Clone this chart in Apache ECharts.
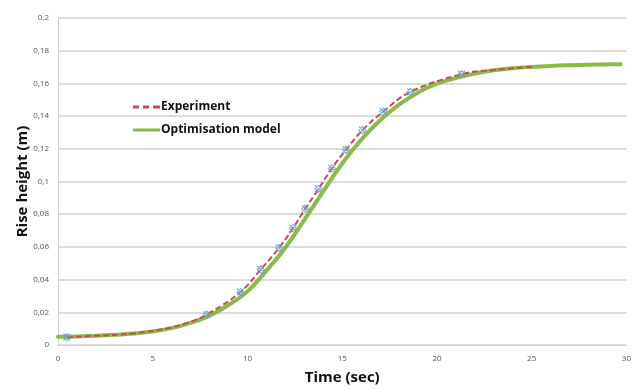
<!DOCTYPE html>
<html>
<head>
<meta charset="utf-8">
<script src="https://cdn.jsdelivr.net/npm/echarts@6/dist/echarts.min.js"></script>
<style>
  html, body { margin: 0; padding: 0; background: #fff; }
  #chart { width: 634px; height: 390px; }
</style>
</head>
<body>
<div id="chart"></div>
<script>
// experiment readings (time in sec, rise height in m) - the markers
const expTime = [0.47, 7.85, 9.63, 10.7, 11.67, 12.4, 13.05, 13.75, 14.45, 15.2, 16.07, 17.17, 18.6, 21.3];
const expHeight = [0.0048, 0.0186, 0.0324, 0.0462, 0.0594, 0.0714, 0.0834, 0.0954, 0.108, 0.1194, 0.1314, 0.1428, 0.1548, 0.1656];

// dashed experiment trend line as it appears in the picture
const expLineTime = [0.47, 2, 4, 6, 7, 7.85, 9.63, 10.7, 11.67, 12.4, 13.05, 13.75, 14.45, 15.2, 16.07, 17.17, 18.6, 21.3, 23, 25];
const expLineHeight = [0.0048, 0.0056, 0.0071, 0.0108, 0.0142, 0.0186, 0.0324, 0.0462, 0.0594, 0.0714, 0.0834, 0.0954, 0.108, 0.1194, 0.1314, 0.1428, 0.1548, 0.1656, 0.1682, 0.1701];

// optimisation model curve
const modelTime = [0, 1, 2, 3, 4, 5, 6, 7, 8, 9, 10, 11, 12, 13, 14, 15, 16, 17, 18, 19, 20, 21, 22, 23, 24, 25, 26, 27, 28, 29, 29.7];
const modelHeight = [0.0050, 0.0052, 0.0056, 0.0062, 0.0070, 0.0082, 0.0103, 0.0135, 0.0180, 0.0245, 0.0328, 0.0455, 0.0595, 0.0765, 0.0940, 0.1110, 0.1255, 0.1375, 0.1470, 0.1545, 0.1598, 0.1633, 0.1660, 0.1680, 0.1693, 0.1701, 0.1707, 0.1711, 0.1714, 0.1716, 0.1717];

const xTicks = [0, 5, 10, 15, 20, 25, 30];

const chart = echarts.init(document.getElementById('chart'));
const comma = (v) => String(Math.round(v * 1000) / 1000).replace('.', ',');
const pairs = (xs, ys) => xs.map((x, i) => [x, ys[i]]);

const option = {
  animation: false,
  backgroundColor: '#fff',
  grid: { left: 58, right: 3, top: 18, bottom: 39, containLabel: false },
  legend: {
    orient: 'vertical',
    left: 133,
    top: 101,
    padding: 0,
    itemGap: 11,
    itemWidth: 27,
    itemHeight: 3,
    textStyle: { fontFamily: 'Open Sans', fontWeight: 'bold', fontSize: 12, color: '#111', padding: [0, 0, 0, -4] },
    data: [
      {
        name: 'Experiment',
        icon: 'path://M0,0h6v3h-6z M10,0h6v3h-6z M20,0h7v3h-7z',
        itemStyle: { color: '#c0504d', borderWidth: 0 },
      },
      {
        name: 'Optimisation model',
        icon: 'path://M0,0h27v3h-27z',
        itemStyle: { color: '#8db94a', borderWidth: 0 },
      },
    ],
  },
  xAxis: {
    type: 'value',
    min: 0,
    max: 30,
    interval: 5,
    name: 'Time (sec)',
    nameLocation: 'middle',
    nameGap: 25,
    nameMoveOverlap: false,
    nameTextStyle: { fontFamily: 'Open Sans', fontWeight: 'bold', fontSize: 15, color: '#111' },
    axisLine: { show: true, lineStyle: { color: '#d0d0d0', width: 1 } },
    axisTick: { show: false },
    axisLabel: {
      fontFamily: 'Open Sans', fontSize: 8, color: '#555', margin: 10,
      formatter: (v) => (xTicks.includes(v) ? String(v) : ''),
    },
    splitLine: { show: false },
  },
  yAxis: {
    type: 'value',
    min: 0,
    max: 0.2,
    interval: 0.02,
    name: 'Rise height (m)',
    nameLocation: 'middle',
    nameGap: 28,
    nameMoveOverlap: false,
    nameRotate: 90,
    nameTextStyle: { fontFamily: 'Open Sans', fontWeight: 'bold', fontSize: 15, color: '#111' },
    axisLine: { show: true, lineStyle: { color: '#d0d0d0', width: 1 } },
    axisTick: { show: false },
    axisLabel: { fontFamily: 'Open Sans', fontSize: 8, color: '#555', margin: 9, formatter: comma },
    splitLine: { show: true, lineStyle: { color: '#dcdcdc', width: 2 } },
  },
  series: [
    {
      name: 'Optimisation model',
      type: 'line',
      data: pairs(modelTime, modelHeight),
      smooth: 0.4,
      showSymbol: false,
      lineStyle: { color: '#8db94a', width: 4, cap: 'round' },
      itemStyle: { color: '#8db94a' },
      z: 2,
    },
    {
      name: 'Experiment',
      type: 'line',
      data: pairs(expLineTime, expLineHeight),
      smooth: 0.4,
      showSymbol: false,
      lineStyle: { color: '#c0504d', width: 2, type: [6, 3] },
      itemStyle: { color: '#c0504d' },
      z: 3,
    },
    {
      name: 'Experiment points',
      type: 'scatter',
      data: pairs(expTime, expHeight),
      symbol: 'path://M0,0L10,10M10,0L0,10M5,0L10,5L5,10L0,5Z',
      symbolSize: 7,
      itemStyle: { color: 'rgba(255,255,255,0)', borderColor: '#6f9cc4', borderWidth: 1.2 },
      z: 4,
    },
  ],
};
chart.setOption(option);
</script>
</body>
</html>
